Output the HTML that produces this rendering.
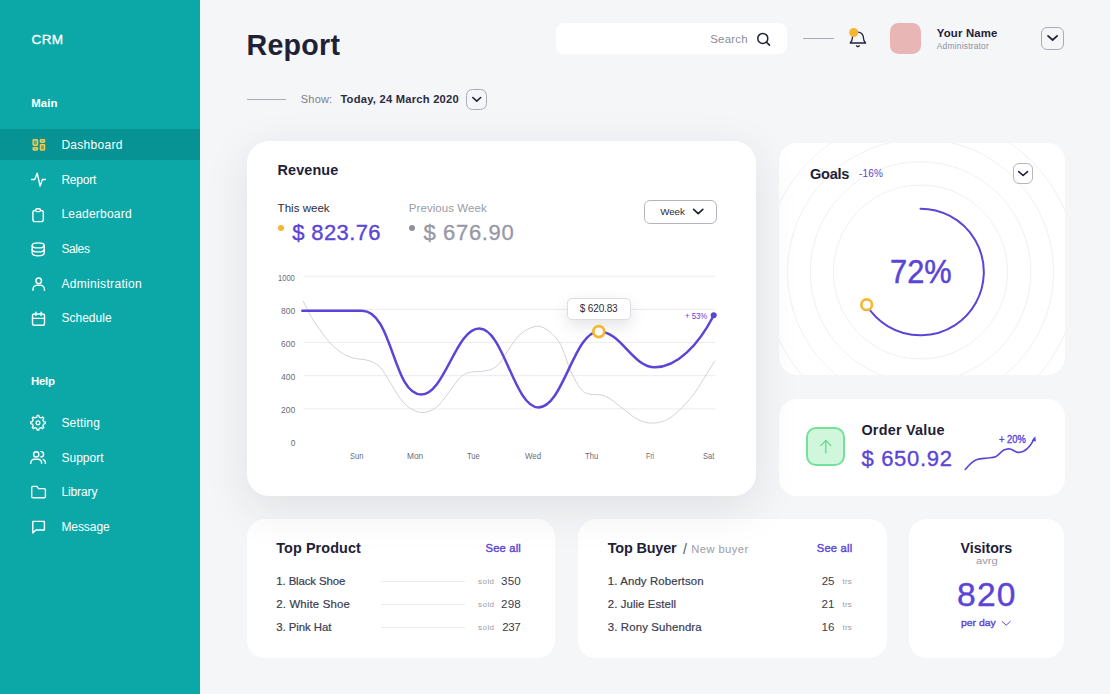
<!DOCTYPE html>
<html>
<head>
<meta charset="utf-8">
<title>Report</title>
<style>
*{box-sizing:border-box;margin:0;padding:0}
html,body{width:1110px;height:694px;overflow:hidden}
body{background:#f5f6f8;font-family:"Liberation Sans",sans-serif;color:#1f2137;position:relative}
.abs{position:absolute}
.t{position:absolute;white-space:nowrap;line-height:1}
#side{position:absolute;left:0;top:0;width:200.2px;height:694px;background:#0ca8a8}
#side .act{position:absolute;left:0;top:129.4px;width:200.2px;height:30.2px;background:#079393}
.card{position:absolute;background:#fff;border-radius:18px}
.btn{position:absolute;border:1px solid #a9abb7;border-radius:6px;background:transparent}
svg{position:absolute;overflow:visible}
</style>
</head>
<body>

<!-- sidebar -->
<div id="side"><div class="act"></div></div>

<!-- header shapes -->
<div class="abs" style="left:556px;top:23px;width:231px;height:31px;background:#fff;border-radius:8px"></div>
<div class="abs" style="left:803px;top:38px;width:30.5px;height:1px;background:#a9abb5"></div>
<div class="abs" style="left:890px;top:23px;width:31px;height:31px;background:#e9b6b6;border-radius:8.5px"></div>
<div class="btn" style="left:1041.2px;top:27px;width:22.7px;height:22.7px"></div>
<div class="abs" style="left:247px;top:99px;width:38.5px;height:1px;background:#a9abb5"></div>
<div class="btn" style="left:466.1px;top:89.2px;width:20.6px;height:20.6px;border-radius:6.5px"></div>

<!-- bottom cards (drawn first so revenue shadow falls over them) -->
<div class="card" style="left:247px;top:519px;width:308px;height:139px"></div>
<div class="card" style="left:578px;top:519px;width:309px;height:139px"></div>
<div class="card" style="left:909px;top:519px;width:155px;height:139px"></div>

<!-- goals card -->
<div class="card" style="left:779px;top:143px;width:286px;height:232px;overflow:hidden">
<svg width="286" height="232" viewBox="779 143 286 232" style="left:0;top:0" fill="none">
  <g stroke="#f0f0f4" stroke-width="1">
    <circle cx="920.5" cy="272" r="87"/><circle cx="920.5" cy="272" r="110.3"/><circle cx="920.5" cy="272" r="133"/><circle cx="920.5" cy="272" r="157"/>
  </g>
  <path d="M920.5,208.7A63.3,63.3 0 1 1 866.5,305" stroke="#5a45d6" stroke-width="2" stroke-linecap="round"/>
  <circle cx="866.7" cy="304.7" r="5.3" fill="#fff" stroke="#f5b731" stroke-width="2.7"/>
</svg>
</div>
<div class="btn" style="left:1013px;top:163.2px;width:20.2px;height:20.4px;border-radius:6px;border-color:#b4b6c0"></div>

<!-- order card -->
<div class="card" style="left:779px;top:399px;width:286px;height:97px"></div>
<div class="abs" style="left:806.4px;top:427px;width:39px;height:39px;background:#d0f7dc;border:2px solid #74e09c;border-radius:10px"></div>

<!-- revenue card -->
<div class="card" style="left:247px;top:141px;width:509px;height:355px;border-radius:22px;box-shadow:0 12px 45px rgba(38,42,52,.10)"></div>
<div class="abs" style="left:277.6px;top:225.2px;width:6px;height:6px;border-radius:3px;background:#f5b731"></div>
<div class="abs" style="left:408.6px;top:225.2px;width:6px;height:6px;border-radius:3px;background:#8f909b"></div>
<div class="btn" style="left:644px;top:200px;width:73px;height:24px;border-color:#b3b4be;border-radius:6px"></div>

<!-- main overlay svg: chart + small icons -->
<svg width="1110" height="694" viewBox="0 0 1110 694" style="left:0;top:0" fill="none">
  <path d="M303.5,276.3H715.2M303.5,309.4H715.2M303.5,342.5H715.2M303.5,375.7H715.2M303.5,408.9H715.2" stroke="#ececf0" stroke-width="1"/>
  <path d="M303.0,300.9 C304.5,303.7 309.1,313.0 311.9,317.8 C314.7,322.6 316.8,325.5 319.8,329.6 C322.8,333.7 326.4,338.9 329.7,342.5 C333.0,346.1 336.3,349.0 339.6,351.4 C342.9,353.8 346.6,355.8 349.6,357.0 C352.6,358.2 354.9,358.3 357.5,358.8 C360.1,359.3 362.8,359.2 365.4,359.8 C368.0,360.4 371.0,361.2 373.3,362.3 C375.6,363.4 377.3,364.3 379.3,366.3 C381.3,368.3 383.2,371.2 385.2,374.2 C387.2,377.2 388.9,380.4 391.2,384.2 C393.5,388.0 396.5,393.4 399.1,397.0 C401.7,400.6 404.4,403.6 407.0,405.9 C409.6,408.2 412.5,409.8 415.0,410.9 C417.5,412.0 419.6,412.4 421.9,412.5 C424.2,412.6 426.3,412.2 428.8,411.3 C431.3,410.4 434.2,409.1 436.8,406.9 C439.4,404.7 442.1,401.3 444.7,398.0 C447.3,394.7 450.0,390.6 452.6,387.1 C455.2,383.6 458.3,379.5 460.6,377.2 C462.9,374.9 464.2,374.2 466.5,373.3 C468.8,372.4 471.8,372.0 474.4,371.7 C477.0,371.4 479.8,371.6 482.4,371.3 C485.0,371.0 487.7,370.8 490.3,369.7 C492.9,368.6 495.6,367.6 498.2,364.9 C500.8,362.2 503.5,357.3 506.1,353.4 C508.8,349.5 511.8,344.6 514.1,341.5 C516.4,338.4 517.5,336.8 520.0,334.6 C522.5,332.4 526.0,329.9 529.0,328.5 C532.0,327.1 535.1,326.0 538.3,326.3 C541.5,326.6 544.3,327.5 548.0,330.5 C551.7,333.5 556.7,337.7 560.5,344.4 C564.3,351.1 567.2,363.3 570.6,370.7 C574.0,378.1 577.7,384.9 580.7,388.8 C583.7,392.7 584.7,392.7 588.7,393.9 C592.7,395.1 599.5,393.7 604.9,395.9 C610.3,398.1 615.6,403.1 621.0,407.0 C626.4,410.9 631.7,416.4 637.1,419.1 C642.5,421.8 647.6,423.5 653.3,423.1 C659.0,422.8 665.0,421.4 671.4,417.0 C677.8,412.6 686.2,403.3 691.6,396.9 C697.0,390.5 699.8,384.8 703.7,378.7 C707.6,372.6 712.9,363.6 714.8,360.6" stroke="#cccdd4" stroke-width=".9"/>
  <path d="M302.3,310.8 H362.0 C392.8,310.8 392.8,394.5 421.3,394.5 C444.5,394.5 456.0,328.5 479.2,328.5 C503.5,328.5 514.2,407.4 538.5,407.4 C563.2,407.4 574.1,331.4 598.8,331.4 C621.3,331.4 632.5,367.3 655.0,367.3 C677,367.3 698.5,345 713.8,315.2" stroke="#5a45d6" stroke-width="2.5" stroke-linecap="round"/>
  <circle cx="713.7" cy="315.2" r="3" fill="#5a45d6"/>
</svg>
<div class="abs" style="left:567px;top:298px;width:63.5px;height:22px;background:#fff;border:1px solid #dcdde3;border-radius:5px;box-shadow:0 6px 16px rgba(30,33,55,.12)"></div>
<svg width="1110" height="694" viewBox="0 0 1110 694" style="left:0;top:0" fill="none" stroke-linecap="round" stroke-linejoin="round">
  <circle cx="598.8" cy="331.6" r="5.5" fill="#fff" stroke="#f5b731" stroke-width="2.8"/>
  <!-- sidebar icons -->
  <g stroke="#fff" stroke-width="1.4">
  <g stroke="#f3ca4f" fill="rgba(243,202,79,.4)" stroke-width="1.4">
    <rect x="33.1" y="139.8" width="4.4" height="5.4" rx=".7"/>
    <rect x="33.1" y="147.7" width="4.4" height="2.3" rx=".7"/>
    <rect x="40.4" y="139.8" width="4.2" height="2.4" rx=".7"/>
    <rect x="40.4" y="144.8" width="4.2" height="5.2" rx=".7"/>
  </g>
  <polyline points="31.6,179.5 34.7,179.5 37.2,173.2 40.1,186 42.4,179.5 45.4,179.5"/>
  <rect x="32.9" y="210.4" width="10.4" height="11.2" rx="2.2"/>
  <rect x="35.8" y="208.7" width="4.6" height="2.9" rx="1" fill="#0ca8a8"/>
  <ellipse cx="38.2" cy="245.4" rx="6" ry="2.5"/>
  <path d="M32.2,245.4v7.8a6,2.5 0 0 0 12,0v-7.8"/>
  <path d="M32.2,249.4a6,2.5 0 0 0 12,0"/>
  <circle cx="38.7" cy="280.8" r="2.8"/>
  <path d="M33,290.2v-0.9a4,4 0 0 1 4-4h3.4a4,4 0 0 1 4,4v0.9"/>
  <rect x="32.5" y="314" width="12" height="11.3" rx="1.8"/>
  <path d="M35.9,312.2v3.4M41.1,312.2v3.4M32.5,318.4h12"/>
  <path d="M43.56,421.56 L45.36,421.99 L45.36,423.61 L43.56,424.04 L42.81,425.85 L43.78,427.43 L42.63,428.58 L41.05,427.61 L39.24,428.36 L38.81,430.16 L37.19,430.16 L36.76,428.36 L34.95,427.61 L33.37,428.58 L32.22,427.43 L33.19,425.85 L32.44,424.04 L30.64,423.61 L30.64,421.99 L32.44,421.56 L33.19,419.75 L32.22,418.17 L33.37,417.02 L34.95,417.99 L36.76,417.24 L37.19,415.44 L38.81,415.44 L39.24,417.24 L41.05,417.99 L42.63,417.02 L43.78,418.17 L42.81,419.75Z" stroke-width="1.3"/>
  <circle cx="38" cy="422.8" r="1.9" stroke-width="1.3"/>
  <circle cx="36.2" cy="454.4" r="2.6"/>
  <path d="M30.8,463.4v-0.6a3.6,3.6 0 0 1 3.6-3.6h3.6a3.6,3.6 0 0 1 3.6,3.6v0.6"/>
  <path d="M40.9,451.6a2.7,2.7 0 0 1 0,5.4"/>
  <path d="M43.2,459.5a3.4,3.4 0 0 1 2.2,3.2v0.7"/>
  <path d="M31.7,487.6a1.2,1.2 0 0 1 1.2-1.2h4l1.7,2.2h5.6a1.2,1.2 0 0 1 1.2,1.2v6.8a1.2,1.2 0 0 1-1.2,1.2h-11.3a1.2,1.2 0 0 1-1.2-1.2z"/>
  <path d="M32.8,521.4h11.6v8.6h-8.5l-3.1,2.9z"/>
  </g>
  <!-- header icons -->
  <g stroke="#1f2137" stroke-width="1.5">
  <circle cx="762.8" cy="38.4" r="5"/><path d="M766.5,42.1l3,3"/>
  <path d="M850.2,43c1.6-1.2 2.2-2.6 2.2-5.4a5.5,5.5 0 0 1 11,0c0,2.8 .6,4.2 2.2,5.4z" stroke-width="1.3"/>
  <path d="M856.5,45.9l1.4,.9 1.4-.9" stroke-width="1.3"/>
  <circle cx="853.7" cy="32.5" r="4.5" fill="#f5b731" stroke="none"/>
  <path d="M1048,35.8l4.6,4.2 4.6-4.2" stroke-width="1.7"/>
  <path d="M472.8,97.5l3.95,3.7 3.95-3.7" stroke-width="1.6"/>
  <path d="M1018.7,171.6l4.4,3.9 4.4-3.9" stroke-width="1.6"/>
  <path d="M693.6,209.4l4.6,4.2 4.6-4.2" stroke-width="1.7"/>
  </g>
  <!-- order card -->
  <path d="M820.8,445.6l5-5.2 5,5.2M825.8,440.6v12.4" stroke="#66d890" stroke-width="1.3"/>
  <path d="M965.3,469.4C969,465 973,461 977,459.6C981,458.3 984,458.6 987.6,458C991,457.6 993,457.8 995.6,456.7C998.5,455.4 1000.6,452 1003.5,450.3C1005.8,449 1008,448.6 1010.2,449C1012.6,449.5 1014.4,451.6 1016.8,452.1C1019,452.6 1021.2,452.4 1023.5,451.3C1026,450 1028.4,447.8 1030.1,445.5C1031.6,443.6 1033,441.2 1034,438.8" stroke="#5a45d6" stroke-width="1.6"/>
  <path d="M1035.3,436.2l-3.6,4.6 4.2,0.8z" fill="#5a45d6"/>
  <path d="M1002.2,621.6l4,3.6 4-3.6" stroke="#5a45d6" stroke-width="1"/>
</svg>
<!-- product lines -->
<div class="abs" style="left:380.6px;top:581px;width:84.4px;height:1px;background:#ebebef"></div>
<div class="abs" style="left:380.6px;top:604px;width:84.4px;height:1px;background:#ebebef"></div>
<div class="abs" style="left:380.6px;top:627px;width:84.4px;height:1px;background:#ebebef"></div>

<div class="t" style="left:31.50px;top:33.29px;font-size:13.6px;color:#fff;letter-spacing:0.333px;-webkit-text-stroke:.3px #fff">CRM</div>
<div class="t" style="left:31.20px;top:98.25px;font-size:11.4px;color:#fff;letter-spacing:0.104px;font-weight:bold">Main</div>
<div class="t" style="left:61.40px;top:139.04px;font-size:12px;color:#fff;letter-spacing:0.284px">Dashboard</div>
<div class="t" style="left:61.40px;top:173.54px;font-size:12px;color:#fff;letter-spacing:-0.237px">Report</div>
<div class="t" style="left:61.40px;top:208.34px;font-size:12px;color:#fff;letter-spacing:0.212px">Leaderboard</div>
<div class="t" style="left:61.40px;top:243.04px;font-size:12px;color:#fff;letter-spacing:-0.379px">Sales</div>
<div class="t" style="left:61.40px;top:277.84px;font-size:12px;color:#fff;letter-spacing:0.334px">Administration</div>
<div class="t" style="left:61.40px;top:312.34px;font-size:12px;color:#fff;letter-spacing:0.019px">Schedule</div>
<div class="t" style="left:30.90px;top:376.05px;font-size:11.4px;color:#fff;letter-spacing:-0.175px;font-weight:bold">Help</div>
<div class="t" style="left:61.40px;top:416.64px;font-size:12px;color:#fff;letter-spacing:0.186px">Setting</div>
<div class="t" style="left:61.40px;top:452.34px;font-size:12px;color:#fff;letter-spacing:0.034px">Support</div>
<div class="t" style="left:61.40px;top:486.14px;font-size:12px;color:#fff;letter-spacing:-0.097px">Library</div>
<div class="t" style="left:61.40px;top:520.64px;font-size:12px;color:#fff;letter-spacing:-0.070px">Message</div>
<div class="t" style="left:246.60px;top:31.19px;font-size:28.6px;color:#1f2137;letter-spacing:0.238px;font-weight:bold">Report</div>
<div class="t" style="left:710.20px;top:33.57px;font-size:11.5px;color:#8b8d98;letter-spacing:0.212px">Search</div>
<div class="t" style="left:936.80px;top:27.95px;font-size:11.4px;color:#1f2137;letter-spacing:0.168px;font-weight:bold">Your Name</div>
<div class="t" style="left:936.80px;top:42.09px;font-size:8.4px;color:#8d8f9c;letter-spacing:0.221px">Administrator</div>
<div class="t" style="left:300.80px;top:93.69px;font-size:11px;color:#7d7f8c;letter-spacing:0.196px">Show:</div>
<div class="t" style="left:340.40px;top:93.52px;font-size:11.2px;color:#2a2c40;letter-spacing:0.228px;font-weight:bold">Today, 24 March 2020</div>
<div class="t" style="left:277.60px;top:163.01px;font-size:14.4px;color:#1f2137;letter-spacing:0.103px;font-weight:bold">Revenue</div>
<div class="t" style="left:277.60px;top:202.57px;font-size:11.5px;color:#2a2c40;letter-spacing:0.023px">This week</div>
<div class="t" style="left:292.20px;top:222.38px;font-size:22px;color:#5a45d6;letter-spacing:0.386px;-webkit-text-stroke:.35px #5a45d6">$ 823.76</div>
<div class="t" style="left:408.80px;top:202.57px;font-size:11.5px;color:#9a9ba6;letter-spacing:0.069px">Previous Week</div>
<div class="t" style="left:423.40px;top:222.38px;font-size:22px;color:#9899a5;letter-spacing:0.671px;-webkit-text-stroke:.35px #9899a5">$ 676.90</div>
<div class="t" style="left:660.20px;top:206.90px;font-size:9.8px;color:#2a2c40;letter-spacing:-0.056px">Week</div>
<div class="t" style="left:579.80px;top:303.94px;font-size:10px;color:#2a2c40;letter-spacing:-0.152px">$ 620.83</div>
<div class="t" style="left:684.60px;top:312.48px;font-size:9px;color:#5a45d6;letter-spacing:0.000px;transform:scaleX(0.8616);transform-origin:0 0">+ 53%</div>
<div class="t" style="left:809.90px;top:166.74px;font-size:14.6px;color:#1f2137;letter-spacing:-0.259px;font-weight:bold">Goals</div>
<div class="t" style="left:859.00px;top:168.63px;font-size:10px;color:#5a45d6;letter-spacing:0.216px">-16%</div>
<div class="t" style="left:890.18px;top:255.04px;font-size:33.5px;color:#5a45d6;letter-spacing:0.000px;transform:scaleX(0.9194);transform-origin:0 0;-webkit-text-stroke:.5px #5a45d6">72%</div>
<div class="t" style="left:861.40px;top:423.21px;font-size:14.4px;color:#1f2137;letter-spacing:0.232px;font-weight:bold">Order Value</div>
<div class="t" style="left:861.40px;top:447.58px;font-size:22px;color:#5a45d6;letter-spacing:0.700px;-webkit-text-stroke:.35px #5a45d6">$ 650.92</div>
<div class="t" style="left:999.00px;top:434.94px;font-size:10px;color:#5a45d6;letter-spacing:0.000px;transform:scaleX(0.9359);transform-origin:0 0;-webkit-text-stroke:.35px #5a45d6">+ 20%</div>
<div class="t" style="left:276.30px;top:540.91px;font-size:14.4px;color:#1f2137;letter-spacing:0.083px;font-weight:bold">Top Product</div>
<div class="t" style="left:485.50px;top:543.02px;font-size:11.2px;color:#5a45d6;letter-spacing:0.180px;-webkit-text-stroke:.4px #5a45d6">See all</div>
<div class="t" style="left:276.30px;top:575.55px;font-size:11.4px;color:#3a3c4f;letter-spacing:-0.112px;-webkit-text-stroke:.2px #3a3c4f">1. Black Shoe</div>
<div class="t" style="left:276.30px;top:598.75px;font-size:11.4px;color:#3a3c4f;letter-spacing:0.157px;-webkit-text-stroke:.2px #3a3c4f">2. White Shoe</div>
<div class="t" style="left:276.30px;top:621.75px;font-size:11.4px;color:#3a3c4f;letter-spacing:-0.065px;-webkit-text-stroke:.2px #3a3c4f">3. Pink Hat</div>
<div class="t" style="left:478.10px;top:578.23px;font-size:8px;color:#9b9ca7;letter-spacing:0.424px">sold</div>
<div class="t" style="left:478.10px;top:601.43px;font-size:8px;color:#9b9ca7;letter-spacing:0.424px">sold</div>
<div class="t" style="left:478.10px;top:624.43px;font-size:8px;color:#9b9ca7;letter-spacing:0.424px">sold</div>
<div class="t" style="left:501.00px;top:575.08px;font-size:11.6px;color:#3a3c4f;letter-spacing:0.202px">350</div>
<div class="t" style="left:501.00px;top:598.28px;font-size:11.6px;color:#3a3c4f;letter-spacing:0.202px">298</div>
<div class="t" style="left:502.20px;top:621.28px;font-size:11.6px;color:#3a3c4f;letter-spacing:-0.398px">237</div>
<div class="t" style="left:607.80px;top:540.91px;font-size:14.4px;color:#1f2137;letter-spacing:-0.161px;font-weight:bold">Top Buyer</div>
<div class="t" style="left:683.00px;top:541.65px;font-size:14px;color:#555768;letter-spacing:0.000px">/</div>
<div class="t" style="left:691.30px;top:543.52px;font-size:11.2px;color:#9a9ba6;letter-spacing:0.419px">New buyer</div>
<div class="t" style="left:816.70px;top:543.02px;font-size:11.2px;color:#5a45d6;letter-spacing:0.230px;-webkit-text-stroke:.4px #5a45d6">See all</div>
<div class="t" style="left:607.80px;top:575.55px;font-size:11.4px;color:#3a3c4f;letter-spacing:0.124px;-webkit-text-stroke:.2px #3a3c4f">1. Andy Robertson</div>
<div class="t" style="left:607.80px;top:598.75px;font-size:11.4px;color:#3a3c4f;letter-spacing:0.080px;-webkit-text-stroke:.2px #3a3c4f">2. Julie Estell</div>
<div class="t" style="left:607.80px;top:621.75px;font-size:11.4px;color:#3a3c4f;letter-spacing:0.134px;-webkit-text-stroke:.2px #3a3c4f">3. Rony Suhendra</div>
<div class="t" style="left:821.80px;top:575.08px;font-size:11.6px;color:#3a3c4f;letter-spacing:-0.248px">25</div>
<div class="t" style="left:821.55px;top:598.28px;font-size:11.6px;color:#3a3c4f;letter-spacing:0.000px">21</div>
<div class="t" style="left:821.55px;top:621.28px;font-size:11.6px;color:#3a3c4f;letter-spacing:0.000px">16</div>
<div class="t" style="left:842.60px;top:578.23px;font-size:8px;color:#9b9ca7;letter-spacing:0.157px">trs</div>
<div class="t" style="left:842.60px;top:601.43px;font-size:8px;color:#9b9ca7;letter-spacing:0.157px">trs</div>
<div class="t" style="left:842.60px;top:624.43px;font-size:8px;color:#9b9ca7;letter-spacing:0.157px">trs</div>
<div class="t" style="left:960.60px;top:541.28px;font-size:14.2px;color:#1f2137;letter-spacing:-0.027px;font-weight:bold">Visitors</div>
<div class="t" style="left:976.10px;top:556.36px;font-size:9.5px;color:#9a9ba6;letter-spacing:0.000px;transform:scaleX(1.1760);transform-origin:0 0">avrg</div>
<div class="t" style="left:957.10px;top:577.96px;font-size:33.6px;color:#5a45d6;letter-spacing:1.175px;-webkit-text-stroke:.4px #5a45d6">820</div>
<div class="t" style="left:960.60px;top:618.73px;font-size:9.3px;color:#5a45d6;letter-spacing:0.000px;transform:scaleX(1.1192);transform-origin:0 0;-webkit-text-stroke:.35px #5a45d6">per day</div>
<div class="t" style="left:278.10px;top:273.72px;font-size:8.6px;color:#6a6c7b;letter-spacing:0.000px;transform:scaleX(0.8791);transform-origin:0 0">1000</div>
<div class="t" style="left:280.70px;top:306.82px;font-size:8.6px;color:#6a6c7b;letter-spacing:0.000px;transform:scaleX(0.9891);transform-origin:0 0">800</div>
<div class="t" style="left:280.70px;top:339.62px;font-size:8.6px;color:#6a6c7b;letter-spacing:0.000px;transform:scaleX(0.9891);transform-origin:0 0">600</div>
<div class="t" style="left:280.70px;top:373.02px;font-size:8.6px;color:#6a6c7b;letter-spacing:0.000px;transform:scaleX(0.9891);transform-origin:0 0">400</div>
<div class="t" style="left:280.70px;top:405.82px;font-size:8.6px;color:#6a6c7b;letter-spacing:0.000px;transform:scaleX(0.9891);transform-origin:0 0">200</div>
<div class="t" style="left:290.70px;top:439.39px;font-size:8.4px;color:#6a6c7b;letter-spacing:0.000px">0</div>
<div class="t" style="left:349.50px;top:452.32px;font-size:8.6px;color:#6a6c7b;letter-spacing:0.000px;transform:scaleX(0.8703);transform-origin:0 0">Sun</div>
<div class="t" style="left:406.70px;top:452.32px;font-size:8.6px;color:#6a6c7b;letter-spacing:0.000px;transform:scaleX(0.9623);transform-origin:0 0">Mon</div>
<div class="t" style="left:467.20px;top:452.32px;font-size:8.6px;color:#6a6c7b;letter-spacing:0.000px;transform:scaleX(0.8838);transform-origin:0 0">Tue</div>
<div class="t" style="left:524.60px;top:452.32px;font-size:8.6px;color:#6a6c7b;letter-spacing:0.000px;transform:scaleX(0.9134);transform-origin:0 0">Wed</div>
<div class="t" style="left:584.60px;top:452.32px;font-size:8.6px;color:#6a6c7b;letter-spacing:0.000px;transform:scaleX(0.8850);transform-origin:0 0">Thu</div>
<div class="t" style="left:645.80px;top:452.32px;font-size:8.6px;color:#6a6c7b;letter-spacing:0.000px;transform:scaleX(0.8110);transform-origin:0 0">Fri</div>
<div class="t" style="left:702.80px;top:452.32px;font-size:8.6px;color:#6a6c7b;letter-spacing:0.000px;transform:scaleX(0.8733);transform-origin:0 0">Sat</div>
</body>
</html>
